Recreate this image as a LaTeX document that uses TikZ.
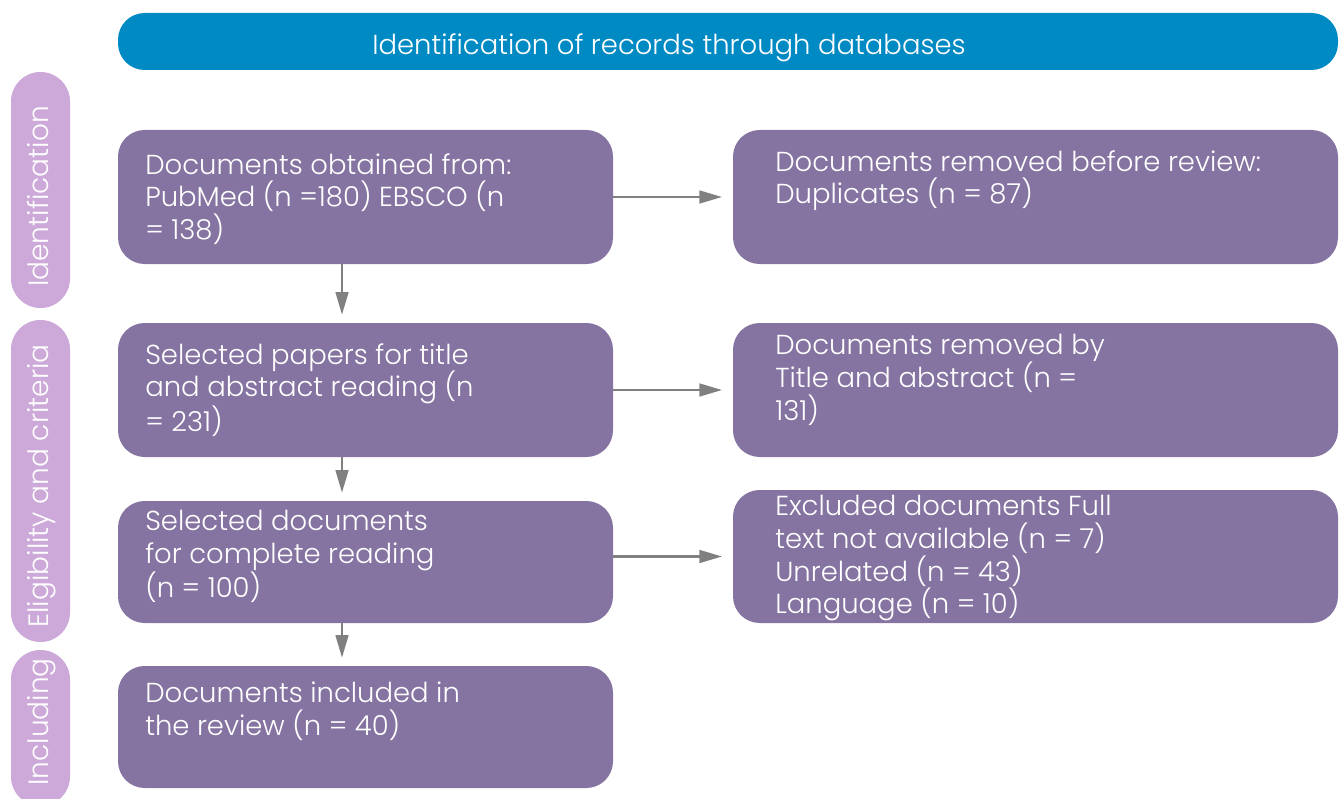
\documentclass[tikz,border=0pt]{standalone}
\usepackage{fontspec}
\setmainfont{Poppins Light}
\usetikzlibrary{arrows.meta,positioning}
\definecolor{bannerblue}{HTML}{008AC4}
\definecolor{stagelilac}{HTML}{CDA9DA}
\definecolor{boxpurple}{HTML}{8574A2}
\definecolor{arrowgrey}{HTML}{808080}
\tikzset{
	flowbox/.style={fill=boxpurple, rounded corners=20pt, inner sep=0pt},
	stagebar/.style={fill=stagelilac, rounded corners=22pt, minimum width=44.25pt, inner sep=0pt},
	boxtext/.style={text=white, align=left, inner sep=0pt, anchor=north west, font=\fontsize{20.6}{24.6}\selectfont},
	stagetext/.style={text=white, rotate=90, anchor=base, inner sep=0pt, font=\fontsize{21}{25}\selectfont},
	flowarrow/.style={draw=arrowgrey, line width=1.9pt, -{Triangle[length=17pt,width=9.5pt]}},
}

\begin{document}
\begin{tikzpicture}[x=0.75pt, y=-0.75pt]
			%%%%% START %%%%%
			\useasboundingbox (0, 0) rectangle (1340, 799);
			
			\node[fill=bannerblue, rounded corners=20pt, minimum width=915pt, minimum height=42.75pt, inner sep=0pt] (banner) at (728, 41.5) {};
			\node[text=white, anchor=base, inner sep=0pt, font=\fontsize{20.6}{24.6}\selectfont] (bannertext) at (669, 55) {Identification of records through databases};
			
			\node[stagebar, minimum height=177pt] (identbar) at (40.5, 190) {};
			\node[stagebar, minimum height=241.5pt] (eligbar) at (40.5, 481) {};
			\node[stagebar, minimum height=117pt] (inclbar) at (40.5, 728) {};
			\node[stagetext] (identtext) at (48, 196.5) {Identification};
			\node[stagetext] (eligtext) at (48, 486) {Eligibility and criteria};
			\node[stagetext] (incltext) at (48, 722) {Including};
			
			\node[flowbox, minimum width=371.25pt, minimum height=100.5pt] (obtained) at (365.5, 197) {};
			\node[flowbox, minimum width=371.25pt, minimum height=100.5pt] (titleread) at (365.5, 390) {};
			\node[flowbox, minimum width=371.25pt, minimum height=91.5pt] (fullread) at (365.5, 562) {};
			\node[flowbox, minimum width=371.25pt, minimum height=91.5pt] (included) at (365.5, 727) {};
			
			\node[flowbox, minimum width=453.75pt, minimum height=100.5pt] (duplicates) at (1035.5, 197) {};
			\node[flowbox, minimum width=453.75pt, minimum height=100.5pt] (removedta) at (1035.5, 390) {};
			\node[flowbox, minimum width=453.75pt, minimum height=99.75pt] (excluded) at (1035.5, 556.5) {};
			
			\node[boxtext] (obtainedtext) at (145, 153) {Documents obtained from:\\PubMed (n =180) EBSCO (n\\= 138)};
			\node[boxtext] (titlereadtext) at (145, 343) {Selected papers for title\\and abstract reading (n\\= 231)};
			\node[boxtext] (fullreadtext) at (145, 510) {Selected documents\\for complete reading\\(n = 100)};
			\node[boxtext] (includedtext) at (145, 682) {Documents included in\\the review (n = 40)};
			\node[boxtext] (duplicatestext) at (775, 150) {Documents removed before review:\\Duplicates (n = 87)};
			\node[boxtext] (removedtatext) at (775, 334) {Documents removed by\\Title and abstract (n =\\131)};
			\node[boxtext] (excludedtext) at (775, 495) {Excluded documents Full\\text not available (n = 7)\\Unrelated (n = 43)\\Language (n = 10)};
			
			\coordinate (spine) at (342, 0);
			\draw[flowarrow, shorten >=6pt] (obtained.south -| spine) -- (titleread.north -| spine);
			\draw[flowarrow, shorten >=6pt] (titleread.south -| spine) -- (fullread.north -| spine);
			\draw[flowarrow, shorten >=6pt] (fullread.south -| spine) -- (included.north -| spine);
			
			\draw[flowarrow, shorten >=8pt] (obtained.east) -- (duplicates.west);
			\draw[flowarrow, shorten >=8pt] (titleread.east) -- (removedta.west);
			\draw[flowarrow, shorten >=8pt] (fullread.east |- excluded.west) -- (excluded.west);
			
			%%%%% END %%%%%
\end{tikzpicture}
\end{document}
